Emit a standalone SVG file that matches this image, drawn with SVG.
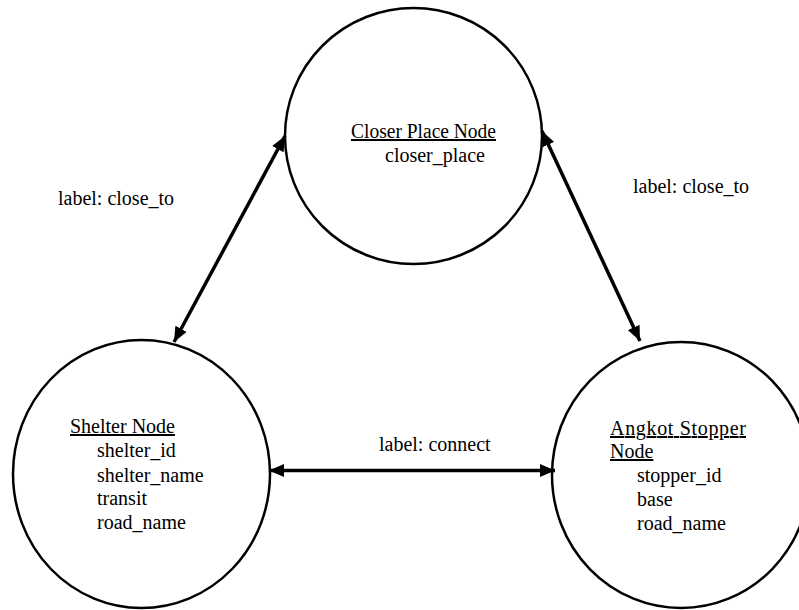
<svg xmlns="http://www.w3.org/2000/svg" width="799" height="610" viewBox="0 0 799 610">
<style>
.node{fill:#fff;stroke:#000;stroke-width:2.5}
text{font-family:"Liberation Serif","Times New Roman",serif;font-size:20px;fill:#000}
.u{text-decoration:underline}
.edge{stroke:#000;stroke-width:3.5;fill:none}
</style>
<defs>
<marker id="ah" viewBox="0 0 15 13" refX="15" refY="6.5" markerWidth="15" markerHeight="13" markerUnits="userSpaceOnUse" orient="auto-start-reverse">
<path d="M0,0 L15,6.5 L0,13 z" fill="#000"/>
</marker>
</defs>
<g id="closer-place-node">
<ellipse class="node" cx="413.5" cy="136" rx="128.5" ry="128"/>
<text x="351" y="138" class="u" textLength="145" lengthAdjust="spacingAndGlyphs">Closer Place Node</text>
<text x="385" y="162">closer_place</text>
</g>
<g id="shelter-node">
<ellipse class="node" cx="141.5" cy="474" rx="128.5" ry="134"/>
<text x="70" y="433" class="u">Shelter Node</text>
<text x="97" y="457">shelter_id</text>
<text x="97" y="482">shelter_name</text>
<text x="97" y="505">transit</text>
<text x="97" y="529">road_name</text>
</g>
<g id="angkot-stopper-node">
<ellipse class="node" cx="681" cy="475" rx="129" ry="133"/>
<text x="610" y="435" class="u" textLength="136" lengthAdjust="spacing">Angkot Stopper</text>
<text x="610" y="458" class="u">Node</text>
<text x="637" y="482">stopper_id</text>
<text x="637" y="506">base</text>
<text x="637" y="530">road_name</text>
</g>
<g id="connectors">
<line class="edge" x1="174" y1="342" x2="285" y2="136" marker-start="url(#ah)" marker-end="url(#ah)"/>
<line class="edge" x1="542" y1="131" x2="640" y2="341" marker-start="url(#ah)" marker-end="url(#ah)"/>
<line class="edge" x1="269" y1="470.5" x2="555" y2="470.5" marker-start="url(#ah)" marker-end="url(#ah)"/>
<text x="58" y="205">label: close_to</text>
<text x="633" y="193">label: close_to</text>
<text x="379" y="451">label: connect</text>
</g>
</svg>
